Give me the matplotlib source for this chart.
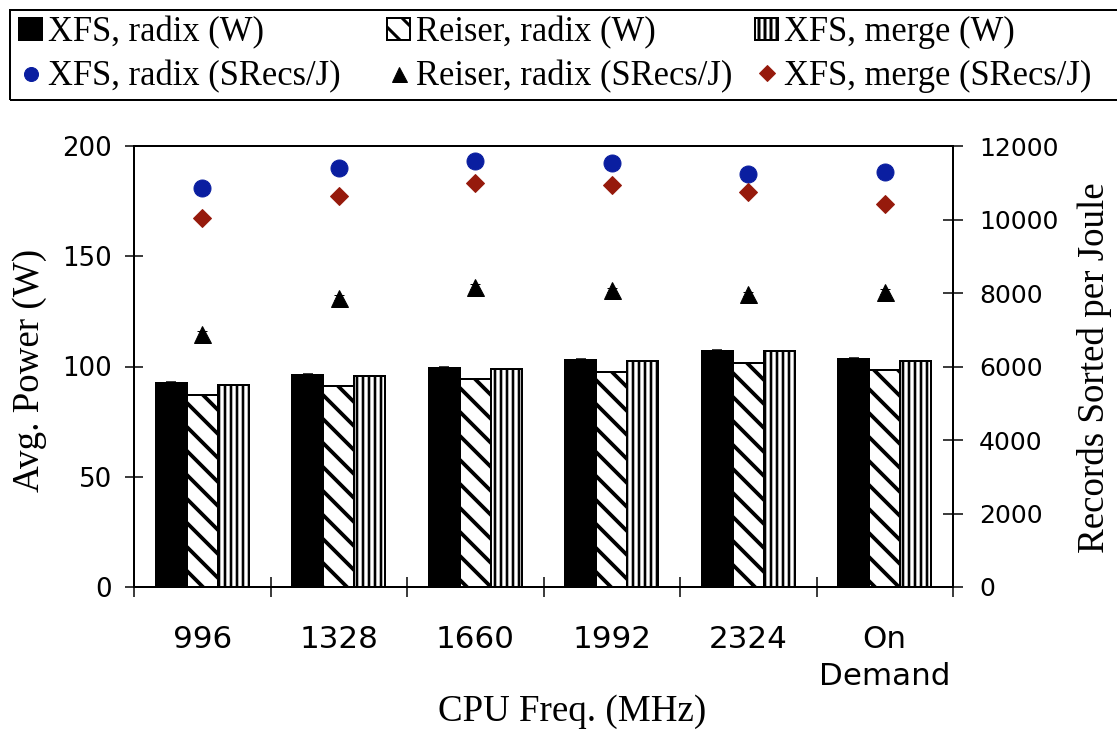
import numpy as np
import matplotlib
matplotlib.use("Agg")
import matplotlib.pyplot as plt
from matplotlib.lines import Line2D
from matplotlib.patches import Rectangle

# ---- data ----
freqs = ["996", "1328", "1660", "1992", "2324", "On\nDemand"]

xfs_radix_w = [92.6, 96.0, 99.3, 102.9, 107.2, 103.3]
reiser_radix_w = [87.3, 91.0, 94.4, 97.6, 101.6, 98.2]
xfs_merge_w = [91.5, 95.5, 98.8, 102.4, 107.0, 102.4]
xfs_radix_w_err = [0.4, 0.4, 0.3, 0.3, 0.4, 0.5]

xfs_radix_srecs = [10870, 11390, 11600, 11540, 11240, 11290]
reiser_radix_srecs = [6880, 7870, 8170, 8080, 7970, 8040]
xfs_merge_srecs = [10030, 10650, 10990, 10950, 10760, 10430]
reiser_radix_srecs_err = [80, 70, 70, 60, 50, 60]

SERIF = "Liberation Serif"
SANS = "DejaVu Sans"
BLUE = "#0a1ea0"
RED = "#961a0c"

# dpi 72 so points == pixels (and hatch spacing comes out like the reference)
DPI = 72
W_PX, H_PX = 1117, 732
plt.rcParams["hatch.color"] = "black"
plt.rcParams["hatch.linewidth"] = 3.0

fig = plt.figure(figsize=(W_PX / DPI, H_PX / DPI), dpi=DPI)
ax = fig.add_axes([134 / W_PX, (H_PX - 587) / H_PX, (953 - 134) / W_PX, (587 - 146) / H_PX])
ax2 = ax.twinx()

x = np.arange(len(freqs))
w = 0.228

b1 = ax.bar(x - w, xfs_radix_w, w, color="black", edgecolor="black", linewidth=2,
            yerr=xfs_radix_w_err, capsize=5, error_kw=dict(elinewidth=1.5, capthick=1.5))
b2 = ax.bar(x, reiser_radix_w, w, color="white", edgecolor="black", linewidth=2,
            hatch="\\")
b3 = ax.bar(x + w, xfs_merge_w, w, color="white", edgecolor="black", linewidth=2,
            hatch="||")
# bolder diagonals, slightly finer verticals (if this matplotlib allows per-patch widths)
for bars, hlw in ((b2, 3.8), (b3, 2.6)):
    for p in bars:
        if hasattr(p, "set_hatch_linewidth"):
            p.set_hatch_linewidth(hlw)

ax2.plot(x, xfs_radix_srecs, "o", color=BLUE, markersize=17, linestyle="none")
ax2.errorbar(x, reiser_radix_srecs, yerr=reiser_radix_srecs_err, fmt="^", color="black",
             markersize=17, capsize=5, elinewidth=1.2)
ax2.plot(x, xfs_merge_srecs, "D", color=RED, markersize=13, linestyle="none")

# ---- axes ----
ax.set_xlim(-0.5, len(freqs) - 0.5)
ax.set_ylim(0, 200)
ax2.set_ylim(0, 12000)
ax.set_yticks(range(0, 201, 50))
ax2.set_yticks(range(0, 12001, 2000))

ax.set_xticks(np.arange(-0.5, len(freqs), 1.0))
ax.set_xticklabels([])
ax.set_xticks(x, minor=True)
ax.set_xticklabels(freqs, minor=True, fontsize=31, family=SANS, linespacing=1.36)
ax.tick_params(axis="x", which="major", direction="inout", length=20, width=1.5)
ax.tick_params(axis="x", which="minor", length=0, pad=38)
ax.tick_params(axis="y", direction="inout", length=18, width=1.5, labelsize=26, pad=13)
ax2.tick_params(axis="y", direction="inout", length=20, width=1.5, labelsize=25, pad=16)
for lab in ax.get_yticklabels() + ax2.get_yticklabels():
    lab.set_family(SANS)

for a in (ax, ax2):
    for s in a.spines.values():
        s.set_linewidth(2)

# axis titles placed where they sit in the reference
fig.text(572 / W_PX, 1 - 712 / H_PX, "CPU Freq. (MHz)", fontsize=37, family=SERIF,
         ha="center", va="center")
fig.text(30 / W_PX, 1 - 370 / H_PX, "Avg. Power (W)", fontsize=37, family=SERIF,
         ha="center", va="center", rotation=90)
fig.text(1095 / W_PX, 1 - 368 / H_PX, "Records Sorted per Joule", fontsize=37, family=SERIF,
         ha="center", va="center", rotation=90)

# ---- legend: box across the top, three equal columns (bar on top, marker below) ----
fig.patches.append(Rectangle((10 / W_PX, 1 - 100 / H_PX), 1120 / W_PX, 90 / H_PX,
                             transform=fig.transFigure, fill=False, edgecolor="black",
                             linewidth=2, clip_on=False))

h_m1 = Line2D([], [], marker="o", color=BLUE, linestyle="none", markersize=14)
h_m2 = Line2D([], [], marker="^", color="black", linestyle="none", markersize=15)
h_m3 = Line2D([], [], marker="D", color=RED, linestyle="none", markersize=11)

columns = [
    (19, [b1, h_m1], ["XFS, radix (W)", "XFS, radix (SRecs/J)"]),
    (387, [b2, h_m2], ["Reiser, radix (W)", "Reiser, radix (SRecs/J)"]),
    (755, [b3, h_m3], ["XFS, merge (W)", "XFS, merge (SRecs/J)"]),
]
for x0, hs, ls in columns:
    leg = fig.legend(hs, ls, loc="upper left", bbox_to_anchor=(x0 / W_PX, 1 - 16 / H_PX),
                     prop={"family": SERIF, "size": 34.5}, frameon=False,
                     handlelength=0.67, handleheight=0.64, handletextpad=0.17,
                     borderpad=0, labelspacing=0.32, borderaxespad=0)

fig.savefig("out.png", dpi=DPI)
